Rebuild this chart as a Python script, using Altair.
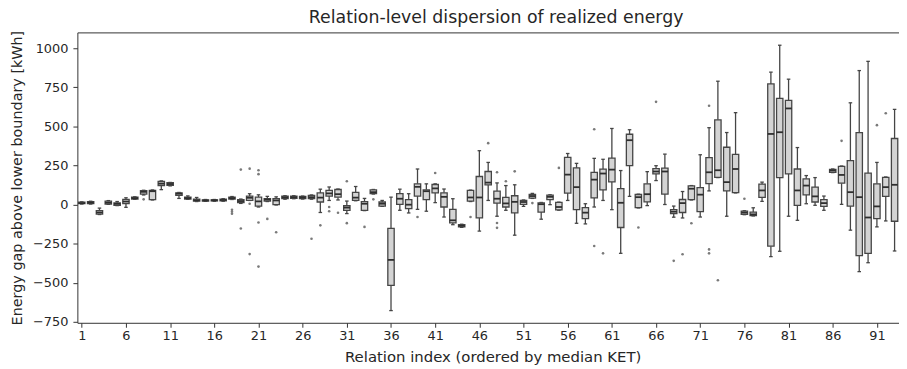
import altair as alt
import pandas as pd

relation = list(range(1, 94))
q1 = [6, 6, -60, 4, -4, 6, 36, 68, 32, 122,
      124, 60, 36, 22, 23, 24, 24, 35, 13, 27,
      -9, 23, 0, 38, 40, 38, 38, 17, 55, 48,
      -36, 27, -36, 70, -9, -516, 2, -25, 55, 32,
      75, -15, -117, -142, 23, -85, 126, 10, -15, -52,
      2, 42, -47, 32, -33, 74, -32, -89, 43, 95,
      146, -146, 249, -19, 18, 197, 68, -57, -50, 32,
      -45, 135, 175, 88, 77, -62, -70, 46, -265, 173,
      197, -4, 63, 17, -11, 207, 137, -9, -326, -311,
      -89, 53, -106]
med = [10, 13, -50, 12, 5, 20, 42, 82, 86, 134,
       132, 70, 42, 28, 27, 28, 30, 42, 23, 44,
       21, 32, 27, 47, 48, 46, 48, 45, 72, 67,
       -19, 45, 6, 80, 6, -353, 38, 0, 114, 86,
       104, 50, -100, -135, 46, 46, 141, 38, 8, 18,
       17, 55, 3, 50, -15, 192, 112, -51, 160, 199,
       224, 12, 412, 48, 67, 212, 212, -45, 10, 102,
       64, 207, 220, 144, 228, -51, -62, 91, 452, 463,
       615, 91, 122, 53, 10, 218, 190, 80, 48, -82,
       -11, 112, 127]
q3 = [16, 20, -38, 22, 12, 34, 48, 90, 92, 148,
      140, 76, 48, 36, 31, 31, 36, 48, 32, 55,
      48, 38, 38, 55, 55, 53, 59, 75, 91, 97,
      -7, 78, 19, 95, 17, -152, 70, 32, 133, 95,
      129, 76, -30, -127, 91, 180, 212, 86, 46, 57,
      28, 65, 12, 61, 14, 302, 235, -19, 207, 227,
      297, 103, 450, 65, 133, 230, 233, -32, 33, 120,
      109, 301, 542, 367, 322, -41, -47, 131, 772, 679,
      666, 228, 165, 112, 32, 226, 245, 281, 461, 201,
      133, 175, 423]
lo = [4, 4, -63, 2, -6, -17, 34, 62, 30, 96,
      120, 40, 34, 20, 21, 22, 22, 33, 8, 27,
      -15, 20, -2, 35, 38, 36, 35, -50, 27, 30,
      -57, 25, -38, 68, -11, -677, -36, -53, -30, -42,
      13, -79, -128, -145, 20, -169, 27, -74, -36, -195,
      -11, 40, -93, 0, -35, 27, -119, -123, -15, 27,
      -32, -311, 53, -21, -6, 154, 1, -80, -85, 30,
      -79, 88, 173, -74, 75, -64, -72, 21, -332, -298,
      -74, -100, 6, -4, -36, 205, 2, -163, -428, -371,
      -142, -104, -296]
hi = [18, 22, -22, 26, 20, 44, 50, 92, 94, 152,
      142, 78, 56, 46, 33, 33, 38, 52, 36, 70,
      63, 53, 50, 57, 57, 55, 62, 99, 113, 100,
      23, 116, 40, 97, 27, 48, 99, 70, 228, 133,
      133, 100, 38, -125, 93, 345, 270, 139, 122, 127,
      30, 72, 14, 63, 16, 327, 264, 6, 296, 290,
      487, 218, 479, 67, 211, 249, 323, -9, 84, 122,
      319, 492, 789, 461, 588, -39, -20, 144, 847, 1019,
      802, 365, 186, 173, 55, 228, 247, 651, 857, 916,
      270, 177, 609]

out_rel = [8, 18, 18, 18, 19, 19, 20, 20, 20, 21, 21, 21, 21, 22, 23, 27,
           28, 29, 29, 30, 31, 31, 33, 34, 39, 41, 45, 47, 48, 48, 48,
           49, 50, 52, 55, 59, 59, 60, 64, 66, 68, 69, 70, 72, 72, 72,
           73, 76, 87, 91, 92]
out_val = [34, -33, -45, -58, 224, -152, 230, 6, -316, 220, 195, -114, -396, -91, -176, -218,
           -132, -15, -42, -52, 150, -118, -142, 34, -79, 202, -79, 393, 207, -117, -148,
           150, 213, 10, 235, 482, -264, -311, -146, 657, -359, -317, -119, 632, -286, -311,
           -483, 38, 408, 508, 584]

yticks = [-750, -500, -250, 0, 250, 500, 750, 1000]
xticks = list(range(1, 94, 5))

df = pd.DataFrame({"rel": relation, "q1": q1, "med": med, "q3": q3, "lo": lo, "hi": hi})
dfo = pd.DataFrame({"rel": out_rel, "val": out_val})

FONT = "DejaVu Sans"
LINE = "#454545"
TXT = "#262626"
xs = alt.Scale(domain=[0.5, 93.5], nice=False, zero=False)
ys = alt.Scale(domain=[-755, 1101], nice=False, zero=False)

base = alt.Chart(df).transform_calculate(
    xl="datum.rel - 0.36", xr="datum.rel + 0.36",
    cl="datum.rel - 0.2", cr="datum.rel + 0.2")

xaxis = alt.Axis(values=xticks, format="d", title="Relation index (ordered by median KET)",
                 grid=False, tickSize=4.5, labelPadding=2, labelFlush=False,
                 titleX=419, titleY=39, titleBaseline="alphabetic", titleAlign="center",
                 labelFontSize=13, titleFontSize=15, labelFont=FONT, titleFont=FONT,
                 domainColor="#333333", tickColor="#333333", labelColor=TXT,
                 titleColor=TXT, titleFontWeight="normal")
yaxis = alt.Axis(values=yticks, format="d", title="Energy gap above lower boundary [kWh]",
                 grid=False, tickSize=4.5, labelPadding=5, titlePadding=8,
                 labelFontSize=13, titleFontSize=14.5, labelFont=FONT, titleFont=FONT,
                 domainColor="#333333", tickColor="#333333", labelColor=TXT,
                 titleColor=TXT, titleFontWeight="normal",
                 labelExpr="replace(datum.label, '-', '\u2212')")
topaxis = alt.Axis(orient="top", labels=False, ticks=False, title=None, grid=False,
                   domainColor="#333333")

whisk_lo = base.mark_rule(color=LINE, strokeWidth=1.3).encode(
    x=alt.X("rel:Q", scale=xs, axis=xaxis),
    y=alt.Y("lo:Q", scale=ys, axis=yaxis),
    y2="q1:Q")
whisk_hi = base.mark_rule(color=LINE, strokeWidth=1.3).encode(
    x=alt.X("rel:Q", scale=xs, axis=None),
    y=alt.Y("q3:Q", scale=ys, axis=None),
    y2="hi:Q")
cap_lo = base.mark_rule(color=LINE, strokeWidth=1.3).encode(
    x=alt.X("cl:Q", scale=xs, axis=None), x2="cr:Q",
    y=alt.Y("lo:Q", scale=ys, axis=None))
cap_hi = base.mark_rule(color=LINE, strokeWidth=1.3).encode(
    x=alt.X("cl:Q", scale=xs, axis=None), x2="cr:Q",
    y=alt.Y("hi:Q", scale=ys, axis=None))
box = base.mark_rect(fill="#d4d4d4", stroke=LINE, strokeWidth=1.3).encode(
    x=alt.X("xl:Q", scale=xs, axis=None), x2="xr:Q",
    y=alt.Y("q1:Q", scale=ys, axis=None), y2="q3:Q")
median = base.mark_rule(color="#2e2e2e", strokeWidth=1.8).encode(
    x=alt.X("xl:Q", scale=xs, axis=None), x2="xr:Q",
    y=alt.Y("med:Q", scale=ys, axis=None))
fliers = alt.Chart(dfo).mark_circle(size=7, color="#7a7a7a", opacity=1).encode(
    x=alt.X("rel:Q", scale=xs, axis=topaxis),
    y=alt.Y("val:Q", scale=ys, axis=None))

chart = alt.layer(whisk_lo, whisk_hi, cap_lo, cap_hi, box, median, fliers).resolve_axis(
    x="independent", y="independent"
).properties(
    width=829, height=293,
    title=alt.TitleParams("Relation-level dispersion of realized energy", font=FONT,
                          fontSize=17.5, fontWeight="normal", color=TXT, offset=4,
                          frame="group", dx=8),
    autosize=alt.AutoSizeParams(type="none"),
    padding={"left": 70, "top": 23, "right": 0, "bottom": 45},
).configure_view(stroke=None)

chart.save("out.html", embed_options={"renderer": "svg", "actions": False})
